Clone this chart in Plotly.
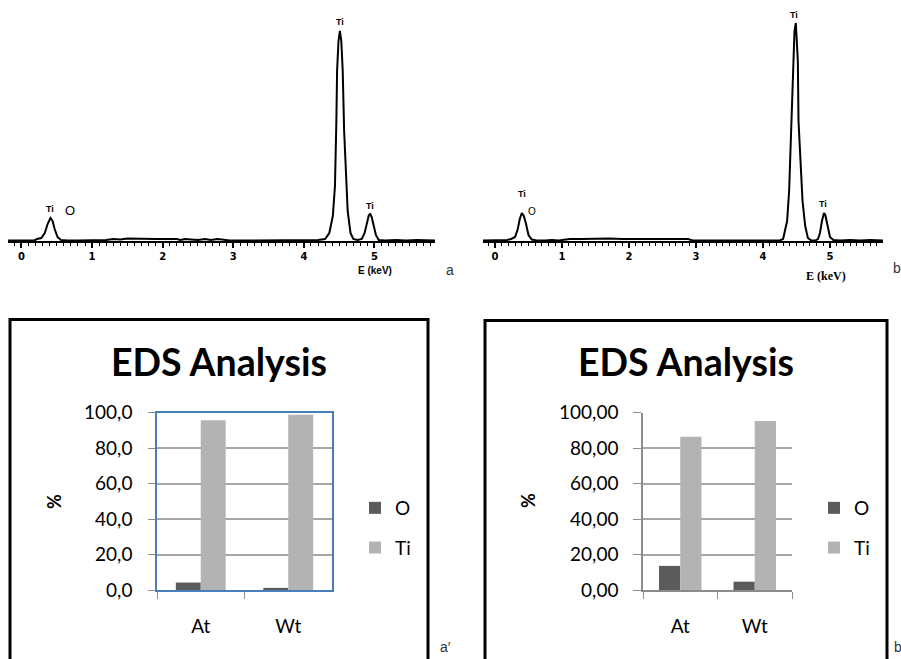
import plotly.graph_objects as go

# ---------------- data ----------------
# EDS spectrum (a): energy (keV) and counts (arbitrary units)
spec_a_energy = [-0.19, 0.00, 0.10, 0.18, 0.22, 0.28, 0.33, 0.37, 0.41, 0.44,
                 0.47, 0.51, 0.56, 0.65, 0.80, 0.95, 1.05, 1.20, 1.30, 1.40,
                 1.50, 1.70, 1.90, 2.10, 2.20, 2.25, 2.32, 2.40, 2.50, 2.60,
                 2.68, 2.78, 2.86, 2.95, 3.10, 3.30, 3.50, 3.70, 3.85, 3.92,
                 4.00, 4.10, 4.20, 4.30, 4.36, 4.41, 4.44, 4.46, 4.47, 4.49,
                 4.51, 4.53, 4.55, 4.57, 4.59, 4.62, 4.66, 4.70, 4.76, 4.82,
                 4.86, 4.89, 4.92, 4.94, 4.96, 4.99, 5.02, 5.06, 5.15, 5.30,
                 5.45, 5.60, 5.75, 5.86]
spec_a_counts = [5, 5, 5, 5, 20, 30, 80, 170, 230, 200,
                 120, 40, 10, 5, 5, 5, 10, 10, 20, 15,
                 25, 20, 20, 20, 20, 10, 20, 15, 10, 20,
                 10, 20, 10, 5, 5, 5, 5, 5, 5, 10,
                 5, 10, 10, 20, 80, 250, 550, 1200, 1700, 2000,
                 2100, 2000, 1700, 1100, 700, 300, 80, 20, 10, 20,
                 80, 180, 260, 270, 240, 150, 60, 10, 5, 10,
                 5, 10, 5, 5]

# EDS spectrum (b)
spec_b_energy = [-0.18, 0.00, 0.10, 0.18, 0.24, 0.30, 0.34, 0.37, 0.40, 0.43,
                 0.46, 0.50, 0.55, 0.62, 0.75, 0.85, 0.95, 1.05, 1.12, 1.30,
                 1.50, 1.70, 1.90, 2.10, 2.30, 2.50, 2.70, 2.88, 2.95, 3.10,
                 3.40, 3.70, 4.00, 4.15, 4.25, 4.30, 4.36, 4.39, 4.42, 4.44,
                 4.47, 4.49, 4.50, 4.52, 4.53, 4.56, 4.59, 4.63, 4.67, 4.72,
                 4.78, 4.82, 4.85, 4.88, 4.91, 4.93, 4.96, 5.00, 5.05, 5.15,
                 5.30, 5.45, 5.60, 5.79]
spec_b_counts = [5, 5, 5, 10, 20, 40, 120, 220, 280, 250,
                 180, 60, 15, 5, 5, 10, 5, 10, 20, 20,
                 25, 25, 20, 20, 20, 20, 20, 20, 5, 5,
                 5, 5, 5, 10, 5, 20, 200, 500, 1100, 1700,
                 2100, 2180, 2000, 1800, 1200, 750, 400, 150, 30, 5,
                 5, 20, 80, 200, 280, 260, 150, 40, 10, 5,
                 10, 5, 10, 5]

# peak labels: (energy, counts, text)
peaks_a = [(0.41, 317, "Ti"), (0.69, 310, "O"), (4.51, 2193, "Ti"), (4.93, 350, "Ti")]
peaks_b = [(0.41, 470, "Ti"), (0.545, 295, "O"), (4.46, 2260, "Ti"), (4.90, 370, "Ti")]

# EDS composition (%)
categories = ["At", "Wt"]
a_O = [4.2, 1.2]
a_Ti = [95.8, 98.8]
b_O = [13.6, 4.7]
b_Ti = [86.4, 95.3]

COL_O = "#5b5b5b"
COL_TI = "#b3b3b3"
W, H = 901, 659


def px(x):
    return x / W


def py(y):
    return 1 - y / H


fig = go.Figure()

# ---------------- spectra ----------------
fig.add_trace(go.Scatter(x=spec_a_energy, y=spec_a_counts, mode="lines",
                         line=dict(color="black", width=2), xaxis="x", yaxis="y",
                         showlegend=False, hoverinfo="skip"))
fig.add_trace(go.Scatter(x=spec_b_energy, y=spec_b_counts, mode="lines",
                         line=dict(color="black", width=2), xaxis="x2", yaxis="y2",
                         showlegend=False, hoverinfo="skip"))

# ---------------- bars ----------------
fig.add_trace(go.Bar(x=categories, y=a_O, name="O", marker_color=COL_O,
                     xaxis="x3", yaxis="y3", legend="legend", legendgroup="aO"))
fig.add_trace(go.Bar(x=categories, y=a_Ti, name="Ti", marker_color=COL_TI,
                     xaxis="x3", yaxis="y3", legend="legend", legendgroup="aTi"))
fig.add_trace(go.Bar(x=categories, y=b_O, name="O", marker_color=COL_O,
                     xaxis="x4", yaxis="y4", legend="legend2", legendgroup="bO"))
fig.add_trace(go.Bar(x=categories, y=b_Ti, name="Ti", marker_color=COL_TI,
                     xaxis="x4", yaxis="y4", legend="legend2", legendgroup="bTi"))

spec_tickfont = dict(family="DejaVu Sans", size=10, color="black", weight="bold")


def spec_xaxis(dom, rng, anchor):
    return dict(domain=dom, range=rng, anchor=anchor, showline=True, linecolor="black",
                linewidth=2, ticks="outside", ticklen=5, tickwidth=1.5, tickcolor="black",
                tick0=0, dtick=1, showgrid=False, zeroline=False, tickfont=spec_tickfont,
                minor=dict(dtick=0.1, tick0=0, ticks="outside", ticklen=3, tickwidth=1,
                           tickcolor="black", showgrid=False),
                automargin=False, fixedrange=True)


spec_ydom = [py(241), py(11)]

bar_font = dict(family="Lato", size=19, color="black")
GRID = "#a6a6a6"
TICKC = "#8c8c8c"
BLUE = "#4a7ebb"
bar_ydom = [py(590), py(412.7)]

fig.update_layout(
    template="none",
    width=W, height=H, autosize=False,
    margin=dict(l=0, r=0, t=0, b=0, pad=0),
    paper_bgcolor="white", plot_bgcolor="white",
    separators=",.",
    barmode="group", bargap=0.43, bargroupgap=0,
    xaxis=spec_xaxis([px(8), px(435)], [-0.191, 5.857], "y"),
    yaxis=dict(domain=spec_ydom, range=[0, 2300], visible=False, fixedrange=True,
               automargin=False),
    xaxis2=spec_xaxis([px(483), px(883)], [-0.179, 5.791], "y2"),
    yaxis2=dict(domain=spec_ydom, range=[0, 2300], visible=False, fixedrange=True,
                automargin=False),
    xaxis3=dict(domain=[px(157), px(332)], anchor="y3", type="category",
                tickson="boundaries", ticks="outside", ticklen=7, tickcolor=TICKC,
                showline=True, linecolor=BLUE, linewidth=1.5, mirror=True,
                showgrid=False, tickfont=bar_font, ticklabelstandoff=18,
                automargin=False, fixedrange=True),
    yaxis3=dict(domain=bar_ydom, anchor="x3", range=[0, 100], dtick=20, tick0=0,
                tickformat=".1f", ticks="outside", ticklen=7, tickcolor=TICKC,
                showgrid=True, gridcolor=GRID, gridwidth=1.5, zeroline=False,
                showline=True, linecolor=BLUE, linewidth=1.5, mirror=True,
                tickfont=bar_font, ticklabelstandoff=12, automargin=False,
                fixedrange=True),
    xaxis4=dict(domain=[px(643), px(792)], anchor="y4", type="category",
                tickson="boundaries", ticks="outside", ticklen=7, tickcolor=TICKC,
                showline=True, linecolor=TICKC, linewidth=1.5,
                showgrid=False, tickfont=bar_font, ticklabelstandoff=18,
                automargin=False, fixedrange=True),
    yaxis4=dict(domain=bar_ydom, anchor="x4", range=[0, 100], dtick=20, tick0=0,
                tickformat=".2f", ticks="outside", ticklen=8, tickcolor=TICKC,
                showgrid=True, gridcolor=GRID, gridwidth=1.5, zeroline=False,
                showline=True, linecolor=TICKC, linewidth=1.5,
                tickfont=bar_font, ticklabelstandoff=11, automargin=False,
                fixedrange=True),
    legend=dict(x=px(355), y=py(489), xanchor="left", yanchor="top",
                font=bar_font, tracegroupgap=12, bgcolor="rgba(0,0,0,0)",
                borderwidth=0, traceorder="grouped"),
    legend2=dict(x=px(814), y=py(489), xanchor="left", yanchor="top",
                 font=bar_font, tracegroupgap=12, bgcolor="rgba(0,0,0,0)",
                 borderwidth=0, traceorder="grouped"),
)

ann = []
for (e, c, t) in peaks_a:
    ann.append(dict(x=e, y=c, xref="x", yref="y", text=t, showarrow=False,
                    xanchor="center", yanchor="middle",
                    font=dict(family="Liberation Sans", size=13 if t == "O" else 9,
                              color="black", weight="normal" if t == "O" else "bold")))
for (e, c, t) in peaks_b:
    ann.append(dict(x=e, y=c, xref="x2", yref="y2", text=t, showarrow=False,
                    xanchor="center", yanchor="middle",
                    font=dict(family="Liberation Sans", size=10 if t == "O" else 9,
                              color="black", weight="normal" if t == "O" else "bold")))


def txt(x, y, text, font, angle=0):
    return dict(x=px(x), y=py(y), xref="paper", yref="paper", text=text, showarrow=False,
                xanchor="center", yanchor="middle", textangle=angle, font=font)


ann += [
    txt(375, 270, "E (keV)", dict(family="Liberation Sans", size=10, color="black", weight="bold")),
    txt(826, 276, "E (keV)", dict(family="Liberation Serif", size=12, color="black", weight="bold")),
    txt(450, 270, "a", dict(family="Liberation Sans", size=14, color="#333333")),
    txt(897, 268, "b", dict(family="Liberation Sans", size=14, color="#333333")),
    txt(445, 647, "a\u2032", dict(family="Liberation Sans", size=14, color="#333333")),
    txt(898, 647, "b", dict(family="Liberation Sans", size=14, color="#333333")),
    txt(219, 362, "EDS Analysis", dict(family="Lato", size=37.5, color="black", weight="bold")),
    txt(686, 362, "EDS Analysis", dict(family="Lato", size=37.5, color="black", weight="bold")),
    txt(54, 502, "%", dict(family="Lato", size=18, color="black", weight="bold"), -90),
    txt(528, 501, "%", dict(family="Lato", size=18, color="black", weight="bold"), -90),
]
fig.update_layout(annotations=ann)

fig.update_layout(shapes=[
    dict(type="rect", xref="paper", yref="paper", x0=px(10), x1=px(428),
         y0=-0.1, y1=py(319.5), line=dict(color="black", width=3), layer="below"),
    dict(type="rect", xref="paper", yref="paper", x0=px(485), x1=px(887),
         y0=-0.1, y1=py(320.5), line=dict(color="black", width=3), layer="below"),
])

fig.write_html("out.html", config={"displayModeBar": False},
               post_script="document.body.style.margin='0';document.body.style.overflow='hidden';")
